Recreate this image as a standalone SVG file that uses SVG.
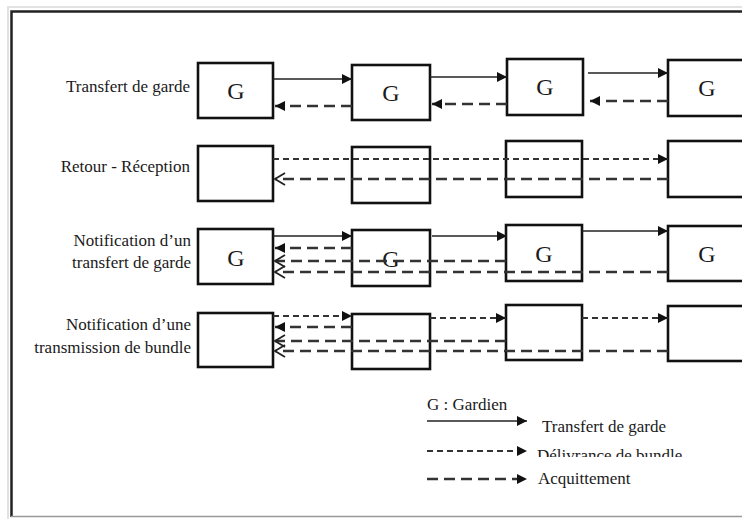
<svg xmlns="http://www.w3.org/2000/svg" width="742" height="519" viewBox="0 0 742 519">
  <style>
    .lbl { font-family: "Liberation Serif", "Times New Roman", serif; font-size: 17px; fill: #1a1a1a; }
    .g { font-family: "Liberation Serif", "Times New Roman", serif; font-size: 24px; fill: #1a1a1a; text-anchor: middle; }
    .box { fill: #fff; stroke: #111; stroke-width: 2.6; }
    .solid { fill: none; stroke: #222; stroke-width: 1.7; }
    .deliv { fill: none; stroke: #333; stroke-width: 2.1; stroke-dasharray: 6 4; }
    .ack { fill: none; stroke: #333; stroke-width: 2.4; stroke-dasharray: 11 6; }
  </style>
  <defs>
    <marker id="head" markerUnits="userSpaceOnUse" markerWidth="11" markerHeight="11" refX="10" refY="5" orient="auto">
      <path d="M0,0 L10,5 L0,10 z" fill="#111"/>
    </marker>
    <marker id="open" markerUnits="userSpaceOnUse" markerWidth="13" markerHeight="14" refX="11" refY="6.5" orient="auto">
      <path d="M1,0.5 L11,6.5 L1,12.5" fill="none" stroke="#222" stroke-width="1.8"/>
    </marker>
    <clipPath id="legendClip">
      <rect x="520" y="440" width="200" height="17"/>
    </clipPath>
  </defs>

  <!-- page frame -->
  <g id="frame">
    <rect x="0" y="0" width="742" height="519" fill="#fff"/>
    <path d="M8,519 V7 H742" fill="none" stroke="#e2e2e2" stroke-width="2"/>
    <path d="M11.5,517 V11.5 H742" fill="none" stroke="#222" stroke-width="2.5"/>
    <path d="M11,516.5 H742" fill="none" stroke="#999" stroke-width="1.5"/>
  </g>

  <!-- row labels -->
  <g id="labels">
    <text class="lbl" x="190" y="92" text-anchor="end">Transfert de garde</text>
    <text class="lbl" x="190" y="172" text-anchor="end">Retour - Réception</text>
    <text class="lbl" x="191" y="246" text-anchor="end">Notification d’un</text>
    <text class="lbl" x="191" y="268" text-anchor="end">transfert de garde</text>
    <text class="lbl" x="191" y="330" text-anchor="end">Notification d’une</text>
    <text class="lbl" x="191" y="353" text-anchor="end">transmission de bundle</text>
  </g>

  <!-- row 1: custody transfer -->
  <g id="r1n1"><rect class="box" x="198" y="63" width="75" height="55"/><text class="g" x="236" y="99">G</text></g>
  <g id="r1n2"><rect class="box" x="352" y="65" width="78" height="55"/><text class="g" x="391" y="101">G</text></g>
  <g id="r1n3"><rect class="box" x="507" y="59" width="76" height="56"/><text class="g" x="545" y="95">G</text></g>
  <g id="r1n4"><rect class="box" x="668" y="60" width="80" height="56"/><text class="g" x="707" y="96">G</text></g>

  <!-- row 2: return receipt -->
  <g id="r2n1"><rect class="box" x="198" y="146" width="75" height="55"/></g>
  <g id="r2n2"><rect class="box" x="352" y="147" width="78" height="56"/></g>
  <g id="r2n3"><rect class="box" x="506" y="141" width="76" height="56"/></g>
  <g id="r2n4"><rect class="box" x="668" y="141" width="80" height="56"/></g>

  <!-- row 3: custody transfer notification -->
  <g id="r3n1"><rect class="box" x="198" y="229" width="75" height="55"/><text class="g" x="236" y="266">G</text></g>
  <g id="r3n2"><rect class="box" x="352" y="230" width="78" height="56"/><text class="g" x="391" y="267">G</text></g>
  <g id="r3n3"><rect class="box" x="506" y="225" width="76" height="56"/><text class="g" x="544" y="262">G</text></g>
  <g id="r3n4"><rect class="box" x="668" y="226" width="80" height="55"/><text class="g" x="707" y="262">G</text></g>

  <!-- row 4: bundle transmission notification -->
  <g id="r4n1"><rect class="box" x="198" y="313" width="75" height="54"/></g>
  <g id="r4n2"><rect class="box" x="352" y="314" width="78" height="55"/></g>
  <g id="r4n3"><rect class="box" x="506" y="305" width="76" height="55"/></g>
  <g id="r4n4"><rect class="box" x="668" y="306" width="80" height="55"/></g>

  <!-- connectors -->
  <g id="connectors">
    <!-- row 1 -->
    <path class="solid" d="M273,79 H352" marker-end="url(#head)"/>
    <path class="solid" d="M430,77 H507" marker-end="url(#head)"/>
    <path class="solid" d="M588,73 H668" marker-end="url(#head)"/>
    <path class="ack" d="M352,106 H275" marker-end="url(#head)"/>
    <path class="ack" d="M507,104 H432" marker-end="url(#head)"/>
    <path class="ack" d="M668,101 H590" marker-end="url(#head)"/>
    <!-- row 2 -->
    <path class="deliv" d="M273,159 H668" marker-end="url(#head)"/>
    <path class="ack" d="M668,179 H275" marker-end="url(#open)"/>
    <!-- row 3 -->
    <path class="solid" d="M273,236 H352" marker-end="url(#head)"/>
    <path class="solid" d="M432,236 H507" marker-end="url(#head)"/>
    <path class="solid" d="M582,231 H668" marker-end="url(#head)"/>
    <path class="ack" d="M352,248 H275" marker-end="url(#head)"/>
    <path class="ack" d="M506,261 H275" marker-end="url(#open)"/>
    <path class="ack" d="M668,272 H275" marker-end="url(#open)"/>
    <!-- row 4 -->
    <path class="deliv" d="M273,316 H352" marker-end="url(#head)"/>
    <path class="deliv" d="M430,318 H506" marker-end="url(#head)"/>
    <path class="deliv" d="M582,318 H668" marker-end="url(#head)"/>
    <path class="ack" d="M352,327 H275" marker-end="url(#head)"/>
    <path class="ack" d="M506,341 H275" marker-end="url(#open)"/>
    <path class="ack" d="M668,351 H275" marker-end="url(#open)"/>
  </g>

  <!-- legend -->
  <g id="legend">
    <text class="lbl" x="427" y="410">G : Gardien</text>
    <path class="solid" d="M427,421 H527" marker-end="url(#head)"/>
    <text class="lbl" x="542" y="432">Transfert de garde</text>
    <path class="deliv" d="M427,451 H527" marker-end="url(#head)"/>
    <text class="lbl" x="537" y="461" clip-path="url(#legendClip)">Délivrance de bundle</text>
    <path class="ack" d="M427,479 H527" marker-end="url(#head)"/>
    <text class="lbl" x="538" y="484">Acquittement</text>
  </g>
</svg>
